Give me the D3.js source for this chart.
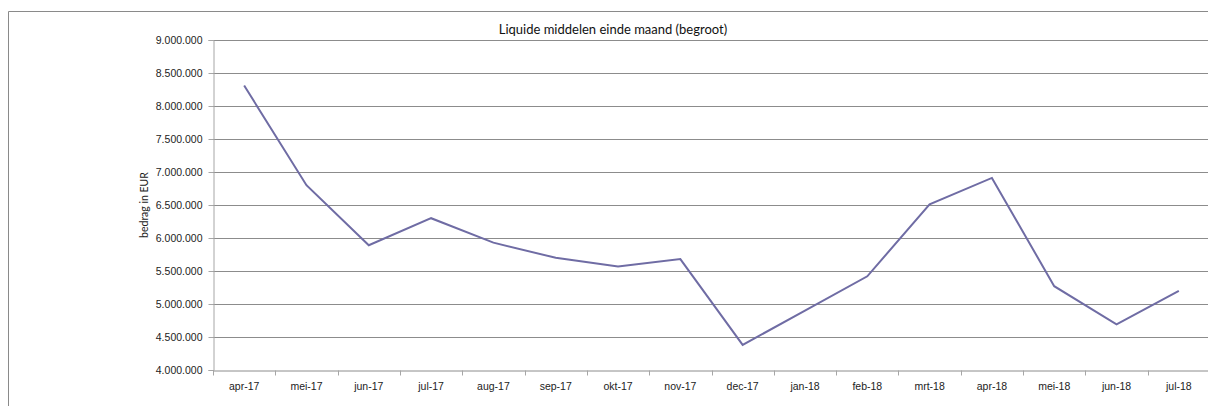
<!DOCTYPE html>
<html>
<head>
<meta charset="utf-8">
<script src="https://cdn.jsdelivr.net/npm/d3@7"></script>
<style>
  html, body { margin: 0; padding: 0; background: #fff; overflow: hidden; }
  svg { display: block; font-family: Lato, "Open Sans", sans-serif; }
  .tick text { fill: #222; font-size: 10.5px; }
</style>
</head>
<body>
<div id="chart"></div>
<script>
const months = [
  "apr-17", "mei-17", "jun-17", "jul-17", "aug-17", "sep-17", "okt-17", "nov-17",
  "dec-17", "jan-18", "feb-18", "mrt-18", "apr-18", "mei-18", "jun-18", "jul-18"
];
const liquideMiddelen = [
  8310000, 6800000, 5890000, 6300000, 5930000, 5700000, 5570000, 5680000,
  4380000, 4900000, 5420000, 6510000, 6910000, 5270000, 4690000, 5200000
];
const yTicks = [4000000, 4500000, 5000000, 5500000, 6000000, 6500000, 7000000, 7500000, 8000000, 8500000, 9000000];
const chartTitle = "Liquide middelen einde maand (begroot)";
const yTitle = "bedrag in EUR";

const width = 1208;
const height = 406;
const margin = { top: 40, right: -2, bottom: 36, left: 213 };
const innerWidth = width - margin.left - margin.right;
const innerHeight = height - margin.top - margin.bottom;

const nl = d3.formatLocale({ decimal: ",", thousands: ".", grouping: [3], currency: ["€", ""] });
const fmt = nl.format(",");

const svg = d3.select("#chart")
  .append("svg")
  .attr("width", width)
  .attr("height", height);

// chart border: only left and top edges fall inside the view
svg.append("path")
  .attr("d", `M8.5,${height} V11.5 H${width}`)
  .attr("fill", "none")
  .attr("stroke", "#8a8a8a");

svg.append("text")
  .attr("x", 613)
  .attr("y", 34)
  .attr("text-anchor", "middle")
  .attr("font-size", 13)
  .attr("fill", "#111")
  .text(chartTitle);

const x = d3.scaleBand().domain(months).range([0, innerWidth]);
const y = d3.scaleLinear().domain([4000000, 9000000]).range([innerHeight, 0]);

const g = svg.append("g").attr("transform", `translate(${margin.left},${margin.top})`);

// gridlines
g.append("g")
  .selectAll("line")
  .data(yTicks.slice(1))
  .join("line")
  .attr("x1", 0)
  .attr("x2", innerWidth)
  .attr("y1", (d) => Math.round(y(d)) + 0.5)
  .attr("y2", (d) => Math.round(y(d)) + 0.5)
  .attr("stroke", "#8c8c8c");

const yAxis = g.append("g")
  .attr("transform", "translate(0.5,0)")
  .call(d3.axisLeft(y).tickValues(yTicks).tickFormat(fmt).tickSize(5).tickPadding(6));
yAxis.select(".domain").attr("stroke", "#a6a6a6");
yAxis.selectAll(".tick line").attr("stroke", "#a6a6a6");

const xAxis = g.append("g")
  .attr("transform", `translate(0,${innerHeight + 0.5})`)
  .call(d3.axisBottom(x).tickSize(0));
xAxis.select(".domain").attr("stroke", "#8c8c8c");
xAxis.selectAll(".tick text").attr("dy", null).attr("y", 19);

// tick marks at band boundaries
g.append("g")
  .attr("transform", `translate(0,${innerHeight + 0.5})`)
  .selectAll("line")
  .data(months)
  .join("line")
  .attr("x1", (d) => Math.round(x(d)) + 0.5)
  .attr("x2", (d) => Math.round(x(d)) + 0.5)
  .attr("y1", 0)
  .attr("y2", 5)
  .attr("stroke", "#a6a6a6");

svg.append("text")
  .attr("transform", `translate(148,${margin.top + innerHeight / 2}) rotate(-90)`)
  .attr("text-anchor", "middle")
  .attr("font-size", 10.5)
  .attr("fill", "#222")
  .text(yTitle);

const line = d3.line()
  .x((d, i) => x(months[i]) + x.bandwidth() / 2)
  .y((d) => y(d));

g.append("path")
  .datum(liquideMiddelen)
  .attr("d", line)
  .attr("fill", "none")
  .attr("stroke", "#6f6ca4")
  .attr("stroke-width", 2)
  .attr("stroke-linejoin", "miter");
</script>
</body>
</html>
